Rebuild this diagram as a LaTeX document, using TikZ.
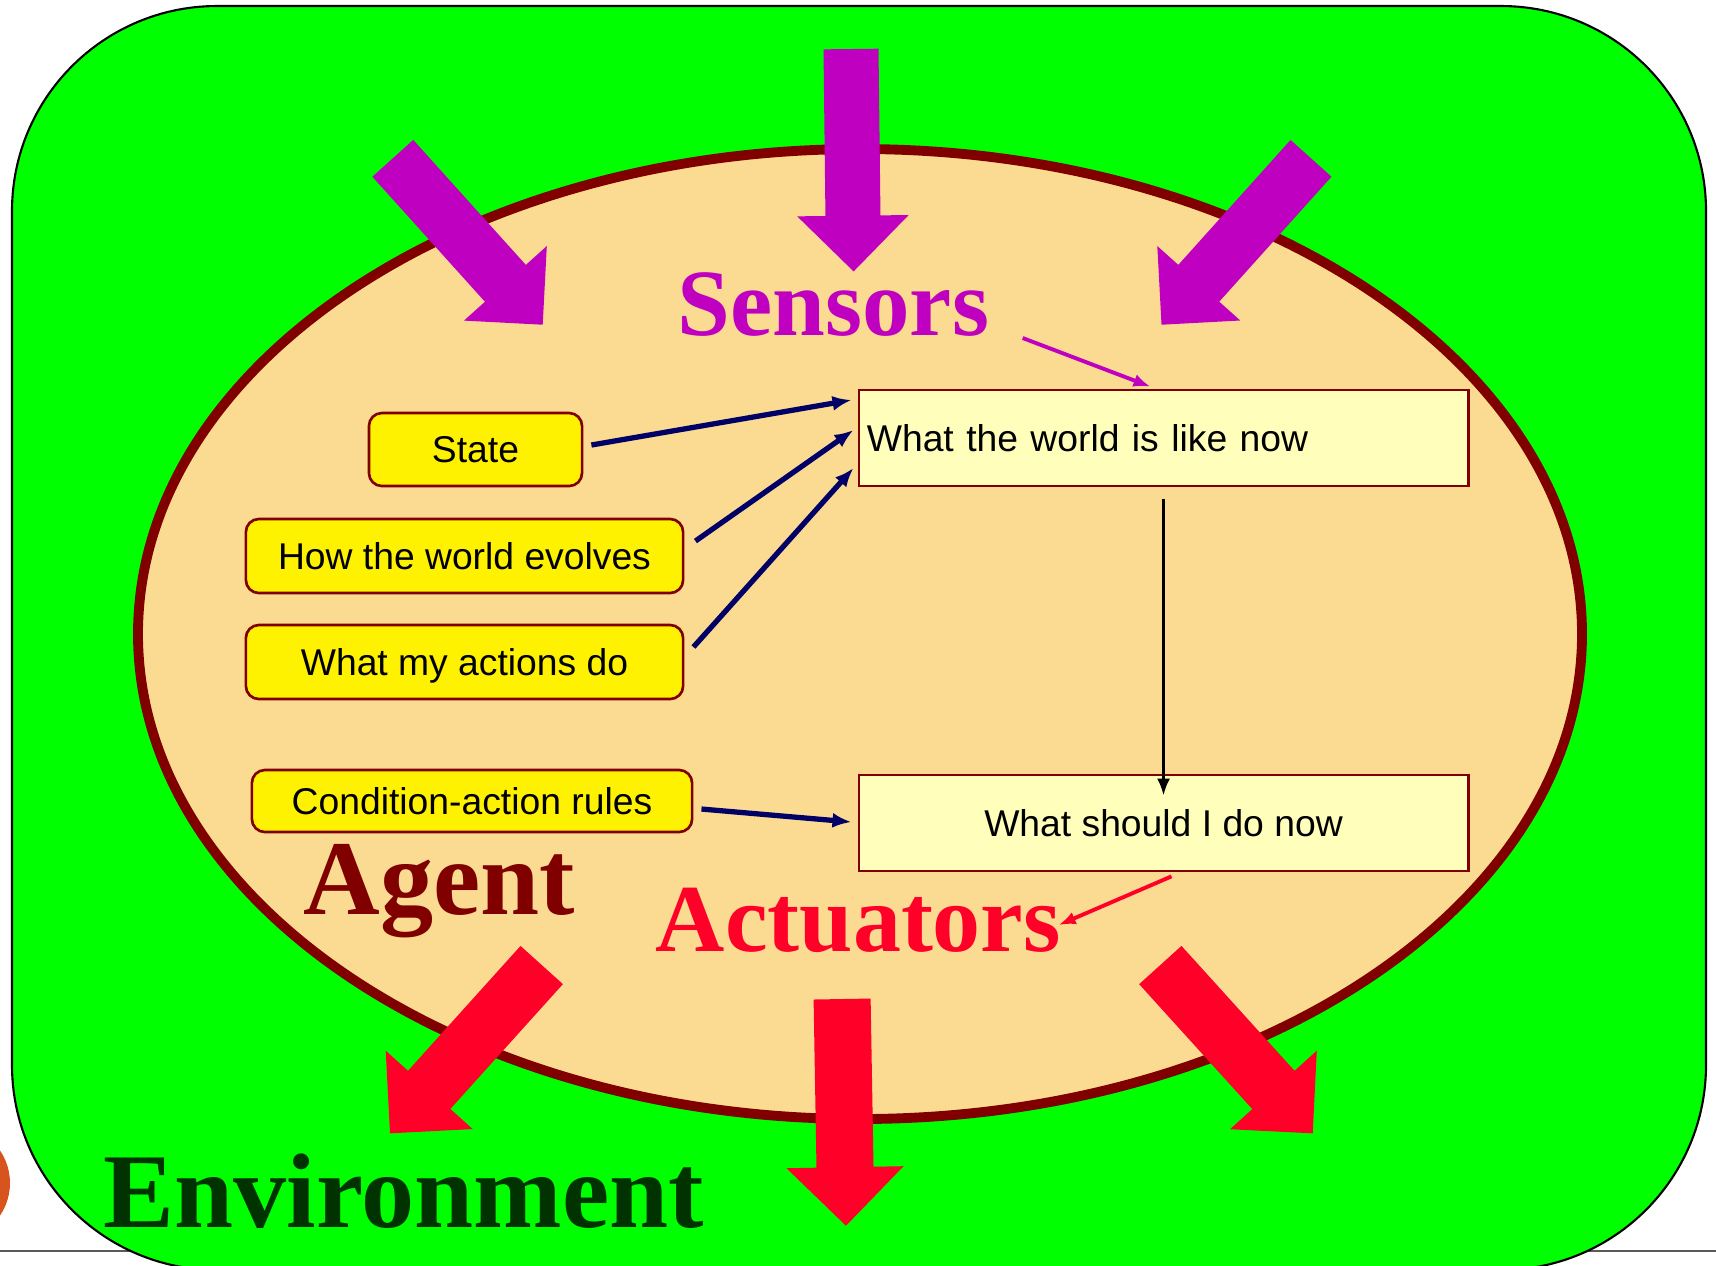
\documentclass[tikz,border=0pt]{standalone}
\usepackage{fontspec}
\setmainfont{Liberation Serif}
\newfontfamily\arialf{Liberation Sans}
\usetikzlibrary{calc,arrows.meta}
\definecolor{envgreen}{RGB}{0,255,0}
\definecolor{agentfill}{RGB}{251,219,146}
\definecolor{darkred}{RGB}{128,0,0}
\definecolor{sensorpurple}{RGB}{192,0,192}
\definecolor{actred}{RGB}{255,0,41}
\definecolor{navyblue}{RGB}{0,0,102}
\definecolor{lightyel}{RGB}{255,255,187}
\definecolor{envtext}{RGB}{0,51,0}
\definecolor{orangedot}{RGB}{216,84,30}
\definecolor{slideline}{RGB}{90,90,90}

% #1 tail, #2 tip, #3 half shaft width, #4 head half width (= head length), #5 colour
\newcommand\blockarr[5]{%
  \path (#1) coordinate (bt) (#2) coordinate (bp);
  \path ($(bp)!#4!(bt)$) coordinate (bh);
  \fill[#5] ($(bt)!#3!90:(bp)$) -- ($(bh)!#3!90:(bp)$) -- ($(bh)!#4!90:(bp)$)
     -- (bp) -- ($(bh)!#4!-90:(bp)$) -- ($(bh)!#3!-90:(bp)$) -- ($(bt)!#3!-90:(bp)$) -- cycle;
}

\begin{document}
\begin{tikzpicture}[x=0.01cm,y=-0.01cm,
  knowbox/.style={draw=darkred, line width=0.75pt, fill=yellow, rounded corners=0.13cm,
    font=\arialf\fontsize{10.6}{12}\selectfont, inner sep=0pt, text=black,
    text height=7.6pt, text depth=0pt},
  statebox/.style={draw=darkred, line width=0.75pt, fill=lightyel,
    font=\arialf\fontsize{10.6}{12}\selectfont, inner sep=0pt, text=black,
    text height=7.6pt, text depth=0pt},
  navyarrow/.style={draw=navyblue, line width=1.5pt, -{Latex[length=0.19cm,width=0.15cm]}},
  thinarrow/.style={line width=1.1pt, -{Latex[length=0.17cm,width=0.13cm]}},
  bigword/.style={anchor=base west, inner sep=0pt},
]
\useasboundingbox (0,0) rectangle (1716,1265);
\clip (0,0) rectangle (1716,1265);

% slide line and dot
\draw[slideline, line width=0.6pt] (0,1251) coordinate (lineL) -- (1716,1251) coordinate (lineR);
\fill[orangedot] (-48,1183) circle [radius=58];

% environment
\draw[black, line width=0.6pt, fill=envgreen, rounded corners=2.05cm] (12,6) rectangle (1706,1270);

% agent
\draw[darkred, line width=2.8pt, fill=agentfill] (860,634) ellipse [x radius=722, y radius=485];

% sensor arrows
\coordinate (s1t) at (392.8,158.3); \coordinate (s1p) at (542.7,324.7);
\coordinate (s2t) at (851,49);      \coordinate (s2p) at (853.6,271.4);
\coordinate (s3t) at (1311,158.3);  \coordinate (s3p) at (1161.5,324.7);
\blockarr{s1t}{s1p}{0.275cm}{0.557cm}{sensorpurple}
\blockarr{s2t}{s2p}{0.275cm}{0.557cm}{sensorpurple}
\blockarr{s3t}{s3p}{0.275cm}{0.557cm}{sensorpurple}

% actuator arrows
\coordinate (a1t) at (541.7,965);   \coordinate (a1p) at (390,1133.3);
\coordinate (a2t) at (842.1,999);   \coordinate (a2p) at (846,1225.7);
\coordinate (a3t) at (1160.3,965);  \coordinate (a3p) at (1312.7,1133.3);
\blockarr{a1t}{a1p}{0.285cm}{0.585cm}{actred}
\blockarr{a2t}{a2p}{0.285cm}{0.585cm}{actred}
\blockarr{a3t}{a3p}{0.285cm}{0.585cm}{actred}

% big labels
\node[bigword, text=sensorpurple, font=\bfseries\fontsize{27}{30}\selectfont] (sensors) at (677,335) {Sensors};
\node[bigword, text=darkred, font=\bfseries\fontsize{30.2}{33}\selectfont] (agent) at (303,914) {Agent};
\node[bigword, text=actred, font=\bfseries\fontsize{27.3}{30}\selectfont] (actuators) at (655,951) {Actuators};
\node[bigword, text=envtext, font=\bfseries\fontsize{30.2}{33}\selectfont] (environment) at (103,1227) {Environment};

% knowledge boxes
\node[knowbox, minimum width=2.13cm, minimum height=0.73cm] (state) at (475.5,449.5) {State};
\node[knowbox, minimum width=4.37cm, minimum height=0.74cm] (evolves) at (464.5,556) {How the world evolves};
\node[knowbox, minimum width=4.37cm, minimum height=0.74cm] (actions) at (464.5,662) {What my actions do};
\node[knowbox, minimum width=4.40cm, minimum height=0.62cm] (rules) at (472,801) {Condition-action rules};

% state boxes
\node[statebox, minimum height=0.96cm, text width=5.93cm, inner xsep=0.08cm, align=left] (world) at (1163.5,438) {What the world is like now};
\node[statebox, minimum width=6.09cm, minimum height=0.96cm] (decide) at (1163.5,823) {What should I do now};

% connectors
\draw[navyarrow] ($(state.east)+(8,-4.5)$) -- ($(world.west)+(-6,-38)$);
\draw[navyarrow] ($(evolves.east)+(11,-15)$) -- ($(world.west)+(-4,-8)$);
\draw[navyarrow] ($(actions.east)+(9,-15)$) -- ($(world.west)+(-4,30)$);
\draw[navyarrow] ($(rules.east)+(8,8)$) -- ($(decide.west)+(-6,-1)$);
\draw[thinarrow, black, line width=0.9pt] ($(world.south)+(0,12)$) -- ($(decide.north)+(0,22)$);
\draw[thinarrow, sensorpurple] ($(sensors.base east)+(33,3)$) -- ($(world.north)+(-13,-2)$);
\draw[thinarrow, actred] ($(decide.south)+(8,4)$) -- ($(actuators.base east)+(-3,-26)$);
\end{tikzpicture}
\end{document}
